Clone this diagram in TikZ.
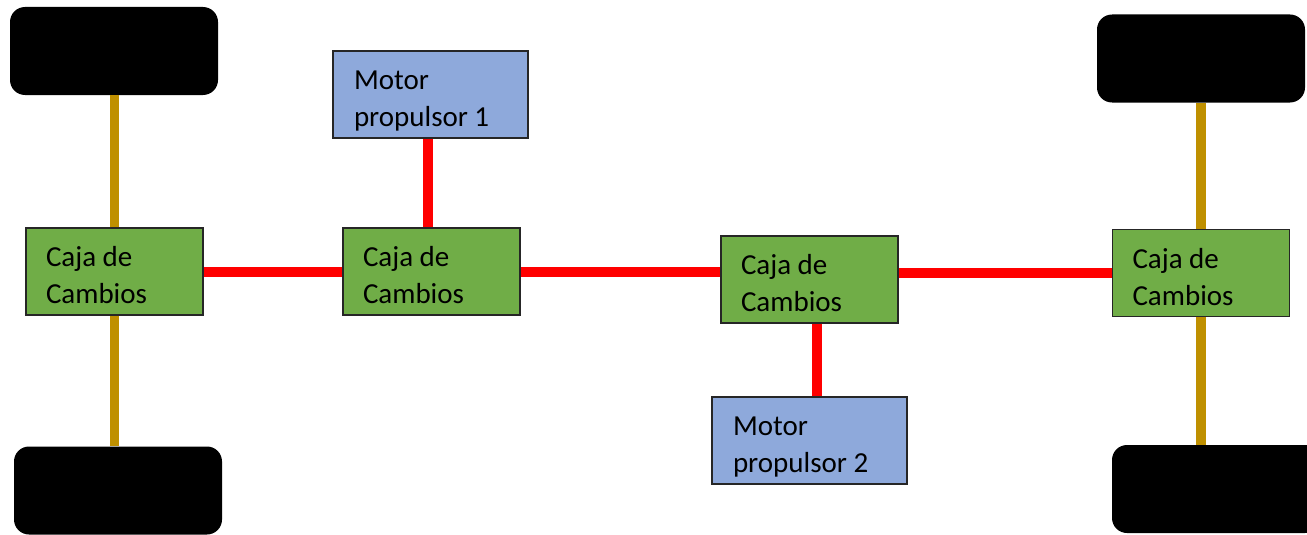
\documentclass[tikz,border=0pt]{standalone}
\usepackage{fontspec}
\setmainfont{Carlito}
\definecolor{boxgreen}{HTML}{70AD47}
\definecolor{motorblue}{HTML}{8EA9DB}
\definecolor{shaftgold}{HTML}{BF9000}
\definecolor{linkred}{HTML}{FF0000}
\tikzset{
  gearbox/.style={draw=black!85, line width=1.5pt, fill=boxgreen, minimum width=177pt, minimum height=87pt,
    text width=137pt, inner xsep=20pt, inner ysep=0pt, align=left, font=\fontsize{29}{37}\selectfont,
    execute at begin node={\spaceskip=6.5pt\relax\rule{0pt}{28pt}}},
  motorbox/.style={draw=black!85, line width=1.5pt, fill=motorblue, minimum width=195pt, minimum height=87pt,
    text width=153pt, inner xsep=21pt, inner ysep=0pt, align=left, font=\fontsize{29}{37}\selectfont,
    execute at begin node={\spaceskip=6.5pt\relax\rule{0pt}{31pt}}},
  wheel/.style={fill=black, draw=none, rounded corners=15pt, minimum width=208pt, minimum height=88pt},
  redlink/.style={draw=linkred, line width=10pt},
  shaft/.style={draw=shaftgold, line width=9.5pt}
}
\begin{document}
\begin{tikzpicture}[x=1pt,y=-1pt]
\clip (0,0) rectangle (1307,535);
\fill[white] (0,0) rectangle (1307,535);
% wheels
\node[wheel] (wTL) at (114,51) {};
\node[wheel] (wBL) at (118,490.5) {};
\node[wheel] (wTR) at (1201,58.5) {};
\node[wheel] (wBR) at (1216,489) {};
% gearboxes
\node[gearbox] (b1) at (114.5,271.5) {Caja de\\Cambios};
\node[gearbox] (b2) at (431.5,271.5) {Caja de\\Cambios};
\node[gearbox] (b3) at (809.5,279.5) {Caja de\\Cambios};
\node[gearbox] (b4) at (1201,273) {Caja de\\Cambios};
% motors
\node[motorbox] (m1) at (430.5,94.5) {Motor\\propulsor 1};
\node[motorbox] (m2) at (809.5,440.5) {Motor\\propulsor 2};
% shafts
\draw[shaft] (b1.north) -- (b1.north |- wTL.south);
\draw[shaft] (b1.south) -- (b1.south |- wBL.north);
\draw[shaft] (b4.north) -- (b4.north |- wTR.south);
\draw[shaft] (b4.south) -- (b4.south |- wBR.north);
% red links
\draw[redlink] (b1.east) -- (b2.west);
\draw[redlink] (b2.east) -- (b2.east -| b3.west);
\draw[redlink] (b4.west -| b3.east) -- (b4.west);
\draw[redlink] ([xshift=-4pt]b2.north) -- ([xshift=-4pt]b2.north |- m1.south);
\draw[redlink] ([xshift=7.5pt]b3.south) -- ([xshift=7.5pt]b3.south |- m2.north);
\end{tikzpicture}
\end{document}
